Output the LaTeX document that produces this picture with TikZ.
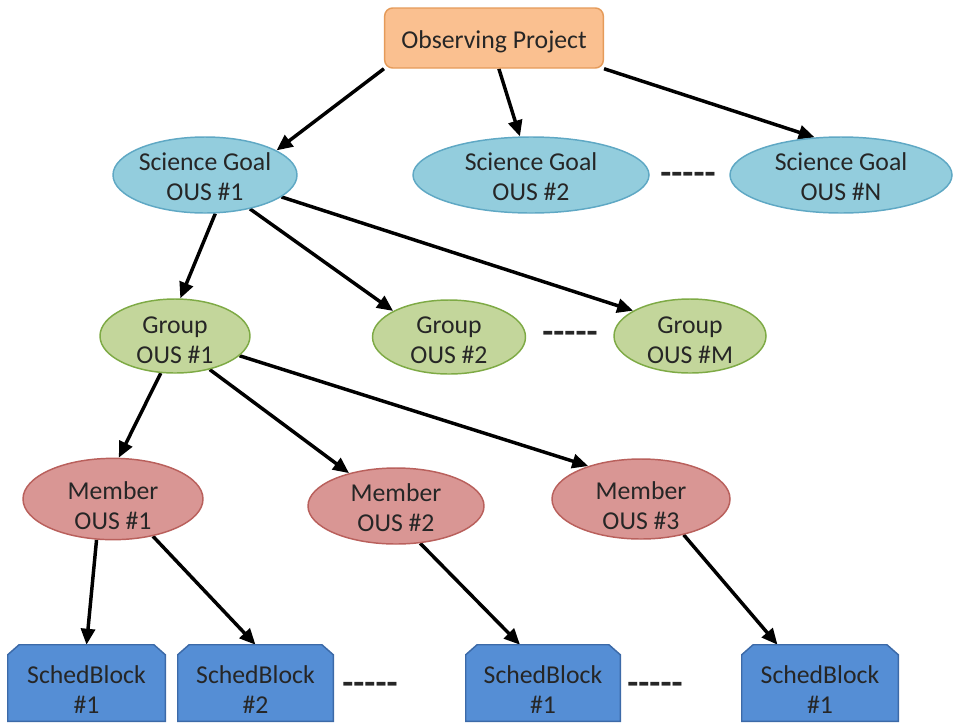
\documentclass[tikz,border=0pt]{standalone}
\usepackage{fontspec}
\setmainfont{Carlito}
\usetikzlibrary{shapes.geometric,arrows.meta}
\pgfdeclarelayer{background}
\pgfsetlayers{background,main}

\definecolor{ink}{HTML}{262626}
\definecolor{opfill}{HTML}{FAC090}
\definecolor{opline}{HTML}{E59B5A}
\definecolor{sgfill}{HTML}{93CDDD}
\definecolor{sgline}{HTML}{5FA8C4}
\definecolor{grfill}{HTML}{C3D69B}
\definecolor{grline}{HTML}{7EAA45}
\definecolor{mbfill}{HTML}{D99694}
\definecolor{mbline}{HTML}{B9605C}
\definecolor{sbfill}{HTML}{558ED5}
\definecolor{sbline}{HTML}{3C6AA8}

\begin{document}
\begin{tikzpicture}[x=0.75pt,y=0.75pt,
  txt/.style={font=\fontsize{19.3}{22.5}\selectfont, text=ink, align=center, inner sep=0pt},
  oval/.style={ellipse, draw, line width=1.1pt, inner sep=0pt},
  sgoal/.style={oval, fill=sgfill, draw=sgline, minimum height=57pt},
  group/.style={oval, fill=grfill, draw=grline, minimum height=55.5pt},
  member/.style={oval, fill=mbfill, draw=mbline},
  opbox/.style={rectangle, rounded corners=6pt, fill=opfill, draw=opline,
    line width=1.1pt, minimum width=164pt, minimum height=45pt},
  sbarea/.style={rectangle, inner sep=0pt, minimum height=57pt},
  sbshape/.style={fill=sbfill, draw=sbline, line width=1.1pt, line join=miter},
  gap/.style={font=\fontsize{27}{27}\selectfont\bfseries, text=ink, inner sep=0pt},
  link/.style={line width=2.6pt, draw=black, -{Triangle[length=12pt,width=10.5pt]}}]
\useasboundingbox (0,0) rectangle (955,-722);

% top level
\node[opbox] (op) at (494,-38) {};
\node[txt] (opt) at ([yshift=-2.5pt]op.center) {Observing Project};

% science goals
\node[sgoal, minimum width=138pt] (sg1) at (205,-175) {};
\node[sgoal, minimum width=177pt] (sg2) at (531,-175) {};
\node[sgoal, minimum width=166.5pt] (sgN) at (841,-175) {};
\node[txt] (sg1t) at ([yshift=-1.5pt]sg1.center) {Science Goal\\OUS \#1};
\node[txt] (sg2t) at ([yshift=-1.5pt]sg2.center) {Science Goal\\OUS \#2};
\node[txt] (sgNt) at ([yshift=-1.5pt]sgN.center) {Science Goal\\OUS \#N};
\node[gap] (sgdots) at (688,-178) {-{}-{}-{}-{}-};

% group OUSs
\node[group, minimum width=112.5pt] (g1) at (175,-336) {};
\node[group, minimum width=114.75pt] (g2) at (449,-337) {};
\node[group, minimum width=114pt] (gM) at (690,-336) {};
\node[txt] (g1t) at ([yshift=-3pt]g1.center) {Group\\OUS \#1};
\node[txt] (g2t) at ([yshift=-2.5pt]g2.center) {Group\\OUS \#2};
\node[txt] (gMt) at ([yshift=-3pt]gM.center) {Group\\OUS \#M};
\node[gap] (gdots) at (570,-337) {-{}-{}-{}-{}-};

% member OUSs
\node[member, minimum width=135pt, minimum height=61pt] (m1) at (113,-499) {};
\node[member, minimum width=132pt, minimum height=57pt] (m2) at (396,-506) {};
\node[member, minimum width=133.5pt, minimum height=60pt] (m3) at (641,-499) {};
\node[txt] (m1t) at ([yshift=-5pt]m1.center) {Member\\OUS \#1};
\node[txt] (m2t) at ([yshift=-1pt]m2.center) {Member\\OUS \#2};
\node[txt] (m3t) at ([yshift=-5pt]m3.center) {Member\\OUS \#3};

% scheduling blocks: boxes with the two top corners cut off
\node[sbarea, minimum width=117.75pt] (sb1) at (86.5,-683) {};
\node[sbarea, minimum width=116.25pt] (sb2) at (255.5,-683) {};
\node[sbarea, minimum width=115.5pt] (sb3) at (543,-683) {};
\node[sbarea, minimum width=117pt] (sb4) at (820,-683) {};
\foreach \b in {sb1,sb2,sb3,sb4}
  \draw[sbshape] (\b.south west) -- ([yshift=-7.5pt]\b.north west)
    -- ([xshift=8.5pt]\b.north west) -- ([xshift=-8.5pt]\b.north east)
    -- ([yshift=-7.5pt]\b.north east) -- (\b.south east) -- cycle;
\node[txt] (sb1t) at ([yshift=-5pt]sb1.center) {SchedBlock\\\#1};
\node[txt] (sb2t) at ([yshift=-5pt]sb2.center) {SchedBlock\\\#2};
\node[txt] (sb3t) at ([yshift=-5pt]sb3.center) {SchedBlock\\\#1};
\node[txt] (sb4t) at ([yshift=-5pt]sb4.center) {SchedBlock\\\#1};
\node[gap] (sbdots1) at (370,-688) {-{}-{}-{}-{}-};
\node[gap] (sbdots2) at (655,-688) {-{}-{}-{}-{}-};

% connectors
\begin{pgfonlayer}{background}
\draw[link] (op.south west) -- (sg1.19);
\draw[link] (op.-81) -- (sg2.106);
\draw[link] (op.south east) -- (sgN.125);
\draw[link] (sg1.-75) -- (g1.82);
\draw[link] (sg1.-37) -- (g2.155);
\draw[link] (sg1.-16) -- (gM.156);
\draw[link] (g1.-111) -- (m1.82);
\draw[link] (g1.-44) -- (m2.145);
\draw[link] (g1.-17) -- (m3.148);
\draw[link] (m1.-112) -- (sb1.north);
\draw[link] (m1.-43) -- (sb2.north);
\draw[link] (m2.-57) -- (sb3.121);
\draw[link] (m3.-40) -- (sb4.138);
\end{pgfonlayer}
\end{tikzpicture}
\end{document}
